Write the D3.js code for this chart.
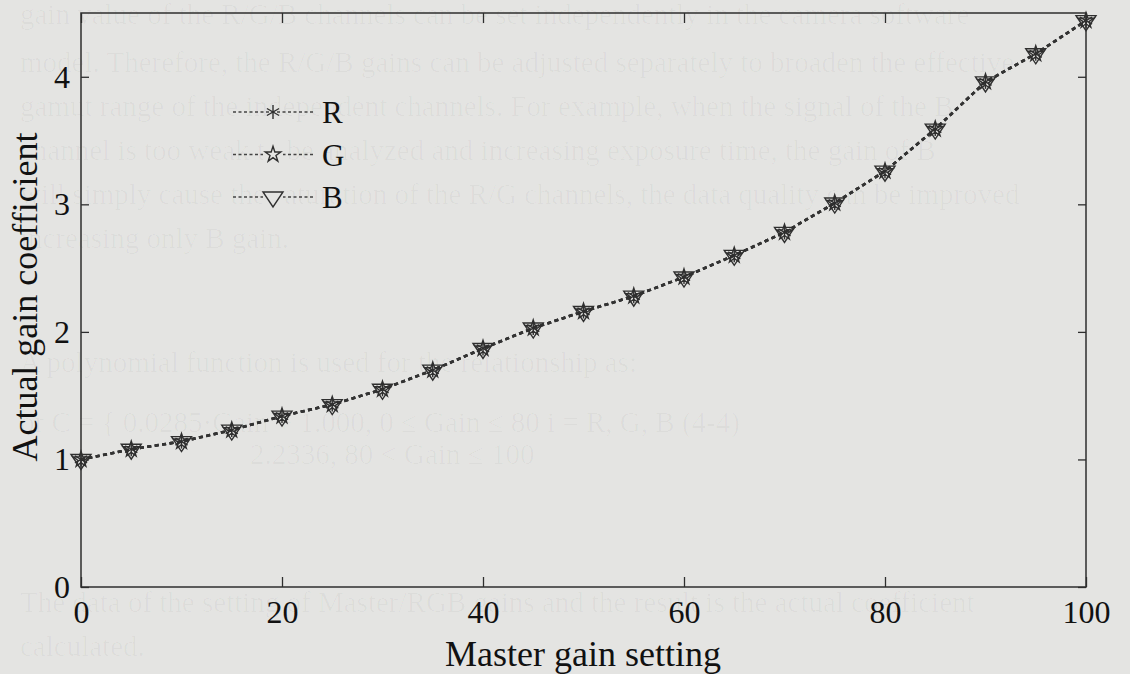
<!DOCTYPE html>
<html>
<head>
<meta charset="utf-8">
<script src="https://cdn.jsdelivr.net/npm/d3@7"></script>
<style>
  body { margin: 0; background: #e4e4e2; }
  svg { display: block; }
  text { font-family: "Liberation Serif", "Times New Roman", serif; }
</style>
</head>
<body>
<div id="chart"></div>
<script>
// values
const gainSetting = [0, 5, 10, 15, 20, 25, 30, 35, 40, 45, 50, 55, 60, 65, 70, 75, 80, 85, 90, 95, 100];
const gainR = [1.00, 1.08, 1.14, 1.23, 1.34, 1.43, 1.55, 1.70, 1.87, 2.03, 2.16, 2.28, 2.43, 2.60, 2.78, 3.01, 3.26, 3.59, 3.96, 4.18, 4.44];
const gainG = [1.00, 1.08, 1.14, 1.23, 1.34, 1.43, 1.55, 1.70, 1.87, 2.03, 2.16, 2.28, 2.43, 2.60, 2.78, 3.01, 3.26, 3.59, 3.96, 4.18, 4.44];
const gainB = [1.00, 1.08, 1.14, 1.23, 1.34, 1.43, 1.55, 1.70, 1.87, 2.03, 2.16, 2.28, 2.43, 2.60, 2.78, 3.01, 3.26, 3.59, 3.96, 4.18, 4.44];
const seriesNames = ['R', 'G', 'B'];
const xTicks = [0, 20, 40, 60, 80, 100];
const yTicks = [0, 1, 2, 3, 4];

// faint bleed-through text of the scanned page behind the figure
const pageLines = [
  [4, 'gain value of the R/G/B channels can be set independently in the camera software'],
  [52, 'model. Therefore, the R/G/B gains can be adjusted separately to broaden the effective'],
  [96, 'gamut range of the independent channels. For example, when the signal of the B'],
  [140, 'channel is too weak to be analyzed and increasing exposure time, the gain of B'],
  [184, 'will simply cause the saturation of the R/G channels, the data quality can be improved'],
  [228, 'increasing only B gain.'],
  [352, 'A polynomial function is used for the relationship as:'],
  [412, 'or C = { 0.0285·Gain + 1.000,   0 ≤ Gain ≤ 80       i = R, G, B        (4-4)'],
  [444, '2.2336,   80 < Gain ≤ 100'],
  [592, 'The data of the setting of Master/RGB gains and the result is the actual coefficient'],
  [636, 'calculated.']
];

const W = 1130, H = 674;
const svg = d3.select('#chart').append('svg')
  .attr('width', W).attr('height', H);

svg.append('rect').attr('width', W).attr('height', H).attr('fill', '#e4e4e2');

svg.append('g').selectAll('text')
  .data(pageLines)
  .enter().append('text')
  .attr('x', (d, i) => i === 8 ? 250 : 20).attr('y', d => d[0] + 20)
  .style('font-size', '29px')
  .attr('fill', '#000').attr('fill-opacity', 0.03)
  .text(d => d[1]);

const x = d3.scaleLinear().domain([0, 100]).range([81, 1086]);
const y = d3.scaleLinear().domain([0, 4.5]).range([587, 13]);

const axisColor = '#2e2e2e';
const fmt = d3.format('d');

function styleAxis(g, showLabels) {
  g.select('.domain').remove();
  g.selectAll('.tick line').attr('stroke', axisColor).attr('stroke-width', 1.3);
  if (!showLabels) g.selectAll('.tick text').remove();
  else g.selectAll('.tick text').attr('fill', '#111').style('font-size', '32px')
    .style('font-family', '"Liberation Serif", "Times New Roman", serif');
}

svg.append('g').attr('transform', 'translate(0,587)')
  .call(d3.axisBottom(x).tickValues(xTicks).tickFormat(fmt).tickSize(-10).tickPadding(13))
  .call(g => styleAxis(g, true));
svg.append('g').attr('transform', 'translate(0,13)')
  .call(d3.axisTop(x).tickValues(xTicks).tickSize(-10))
  .call(g => styleAxis(g, false));
svg.append('g').attr('transform', 'translate(81,0)')
  .call(d3.axisLeft(y).tickValues(yTicks).tickFormat(fmt).tickSize(-8).tickPadding(11))
  .call(g => styleAxis(g, true));
svg.append('g').attr('transform', 'translate(1086,0)')
  .call(d3.axisRight(y).tickValues(yTicks).tickSize(-8))
  .call(g => styleAxis(g, false));

svg.append('rect')
  .attr('x', 81).attr('y', 13).attr('width', 1086 - 81).attr('height', 587 - 13)
  .attr('fill', 'none').attr('stroke', axisColor).attr('stroke-width', 1.5);

// marker shapes
const star = d3.symbol(d3.symbolStar, 75)();
const tri = 'M-10,-5L10,-5L0,10Z';
function drawMarker(g, name) {
  const stroke = '#2f2f2f';
  if (name === 'R') {
    [0, 60, 120].forEach(a => {
      g.append('line').attr('x1', 0).attr('y1', -7).attr('x2', 0).attr('y2', 7)
        .attr('transform', 'rotate(' + a + ')')
        .attr('stroke', stroke).attr('stroke-width', 1.4);
    });
  } else if (name === 'G') {
    g.append('path').attr('d', star).attr('fill', 'none')
      .attr('stroke', stroke).attr('stroke-width', 1.4);
  } else {
    g.append('path').attr('d', tri).attr('fill', 'none')
      .attr('stroke', stroke).attr('stroke-width', 1.4);
  }
}

const series = [gainR, gainG, gainB];
const line = d3.line().x((d, i) => x(gainSetting[i])).y(d => y(d));

series.forEach(vals => {
  svg.append('path').datum(vals)
    .attr('d', line)
    .attr('fill', 'none').attr('stroke', '#333')
    .attr('stroke-width', 2.6).attr('stroke-dasharray', '4,3.5');
});
series.forEach((vals, si) => {
  svg.append('g').selectAll('g')
    .data(vals)
    .enter().append('g')
    .attr('transform', (d, i) => 'translate(' + x(gainSetting[i]) + ',' + y(d) + ')')
    .each(function () { drawMarker(d3.select(this), seriesNames[si]); });
});

// legend
const legend = svg.append('g');
seriesNames.forEach((name, i) => {
  const ly = 112 + i * 42.5;
  legend.append('line')
    .attr('x1', 233).attr('x2', 313).attr('y1', ly).attr('y2', ly)
    .attr('stroke', '#444').attr('stroke-width', 1.4).attr('stroke-dasharray', '3,2.5');
  const mg = legend.append('g').attr('transform', 'translate(273,' + ly + ')');
  if (name !== 'R') {
    mg.append('rect').attr('x', -10).attr('y', -8).attr('width', 20).attr('height', 18).attr('fill', '#e4e4e2');
  }
  drawMarker(mg, name);
  legend.append('text')
    .attr('x', 322).attr('y', ly + 11)
    .style('font-size', '31px').attr('fill', '#111')
    .text(name);
});

// axis titles
svg.append('text')
  .attr('x', 583).attr('y', 666)
  .attr('text-anchor', 'middle')
  .style('font-size', '36px').attr('fill', '#111')
  .text('Master gain setting');
svg.append('text')
  .attr('transform', 'translate(37,297) rotate(-90)')
  .attr('text-anchor', 'middle')
  .style('font-size', '36px').attr('fill', '#111')
  .text('Actual gain coefficient');
</script>
</body>
</html>
